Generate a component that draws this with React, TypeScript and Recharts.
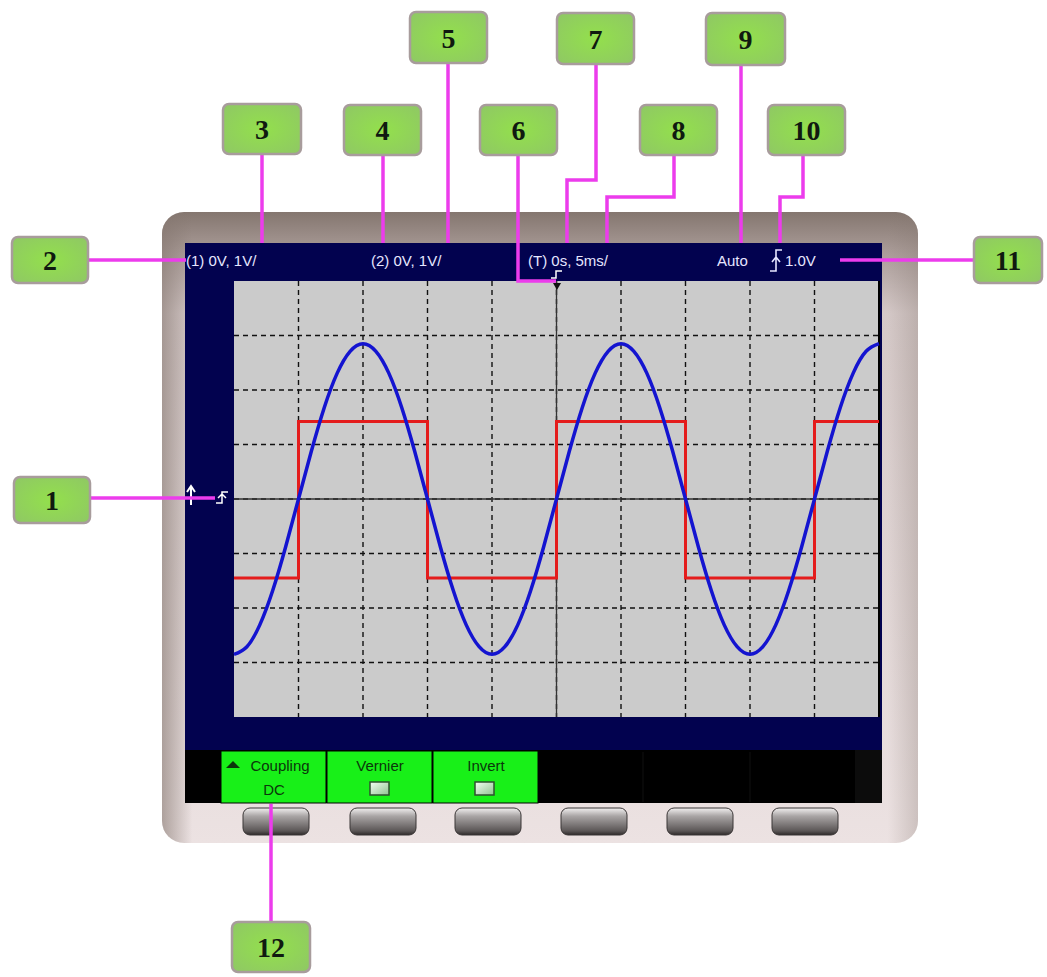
import { LineChart, Line, XAxis, YAxis, CartesianGrid, ReferenceLine } from 'recharts';

// time axis in ms (5 ms/div, 10 divisions)
const timeMs = [
  -25, -24, -23, -22, -21, -20, -19, -18, -17, -16, -15, -14, -13, -12, -11, -10, -9, -8, -7, -6, -5, -4, -3,
  -2, -1, 0, 1, 2, 3, 4, 5, 6, 7, 8, 9, 10, 11, 12, 13, 14, 15, 16, 17, 18, 19, 20, 21, 22, 23, 24, 25,
];
// blue trace (volts)
const sineVolts = [
  -2.85, -2.71, -2.31, -1.68, -0.88, 0, 0.88, 1.68, 2.31, 2.71, 2.85, 2.71, 2.31, 1.68, 0.88, 0, -0.88, -1.68,
  -2.31, -2.71, -2.85, -2.71, -2.31, -1.68, -0.88, 0, 0.88, 1.68, 2.31, 2.71, 2.85, 2.71, 2.31, 1.68, 0.88, 0,
  -0.88, -1.68, -2.31, -2.71, -2.85, -2.71, -2.31, -1.68, -0.88, 0, 0.88, 1.68, 2.31, 2.71, 2.85,
];
// red trace: edges of the square wave
const squareTimes = [-25, -20, -20, -10, -10, 0, 0, 10, 10, 20, 20, 25];
const squareVolts = [-1.45, -1.45, 1.42, 1.42, -1.45, -1.45, 1.42, 1.42, -1.45, -1.45, 1.42, 1.42];

const timeTicks = [-20, -15, -10, -5, 0, 5, 10, 15, 20];
const voltTicks = [-3, -2, -1, 0, 1, 2, 3];

const headerLabels = ['(1) 0V, 1V/', '(2) 0V, 1V/', '(T) 0s, 5ms/', 'Auto', '1.0V'];
const softkeyTitles = ['Coupling', 'Vernier', 'Invert'];

const sineData = timeMs.map((t, i) => ({ t, v: sineVolts[i] }));
const squareData = squareTimes.map((t, i) => ({ t, v: squareVolts[i] }));

const callouts = [
  { n: '1', x: 14, y: 477, w: 76, h: 46, path: 'M90 498 H215' },
  { n: '2', x: 12, y: 237, w: 76, h: 46, path: 'M88 260 H186' },
  { n: '3', x: 223, y: 104, w: 78, h: 50, path: 'M262 154 V243' },
  { n: '4', x: 344, y: 105, w: 77, h: 50, path: 'M383 155 V243' },
  { n: '5', x: 410, y: 12, w: 77, h: 51, path: 'M448 63 V243' },
  { n: '6', x: 480, y: 105, w: 77, h: 50, path: 'M518 155 V281 H556' },
  { n: '7', x: 557, y: 13, w: 77, h: 51, path: 'M596 64 V180 H567 V243' },
  { n: '8', x: 640, y: 105, w: 77, h: 50, path: 'M674 155 V197 H607 V243' },
  { n: '9', x: 706, y: 13, w: 79, h: 52, path: 'M741 65 V243' },
  { n: '10', x: 768, y: 105, w: 77, h: 50, path: 'M803 155 V197 H780 V243' },
  { n: '11', x: 974, y: 237, w: 68, h: 46, path: 'M840 260 H974' },
  { n: '12', x: 232, y: 922, w: 78, h: 50, path: 'M271 804 V922' },
];

const bezelButtons = [276, 383, 488, 594, 700, 805];

const sans = 'Arial, "Liberation Sans", sans-serif';
const serif = '"Liberation Serif", "DejaVu Serif", serif';

function Background() {
  return (
    <svg width={1047} height={977} style={{ position: 'absolute', left: 0, top: 0 }}>
      <defs>
        <linearGradient id="bezel" x1="0" y1="0" x2="0" y2="1">
          <stop offset="0%" stopColor="#84766f" />
          <stop offset="6%" stopColor="#a89a96" />
          <stop offset="16%" stopColor="#d4c8c7" />
          <stop offset="100%" stopColor="#ece2e2" />
        </linearGradient>
        <linearGradient id="bezelSide" x1="0" y1="0" x2="1" y2="0">
          <stop offset="0%" stopColor="#84766f" stopOpacity={0.6} />
          <stop offset="4%" stopColor="#84766f" stopOpacity={0} />
          <stop offset="96%" stopColor="#84766f" stopOpacity={0} />
          <stop offset="100%" stopColor="#84766f" stopOpacity={0.3} />
        </linearGradient>
        <linearGradient id="btn" x1="0" y1="0" x2="0" y2="1">
          <stop offset="0%" stopColor="#f2f0f0" />
          <stop offset="30%" stopColor="#a9a5a5" />
          <stop offset="85%" stopColor="#5b5656" />
          <stop offset="100%" stopColor="#2e2a2a" />
        </linearGradient>
        <linearGradient id="chk" x1="0" y1="0" x2="1" y2="1">
          <stop offset="0%" stopColor="#f4fff4" />
          <stop offset="100%" stopColor="#8fc28f" />
        </linearGradient>
      </defs>
      <rect x={162} y={212} width={756} height={631} rx={22} fill="url(#bezel)" />
      <rect x={162} y={212} width={756} height={631} rx={22} fill="url(#bezelSide)" />
      {/* screen */}
      <rect x={185} y={243} width={697} height={508} fill="#02024f" />
      <rect x={234} y={281} width={645} height={436} fill="#cbcbcb" />
      <rect x={185} y={750} width={697} height={53} fill="#000" />
      <rect x={855} y={750} width={27} height={53} fill="#0c0c0c" />
      <line x1={643} y1={752} x2={643} y2={802} stroke="#111" />
      <line x1={750} y1={752} x2={750} y2={802} stroke="#111" />
      {/* softkeys */}
      {[221, 327, 433].map((x, i) => (
        <g key={x}>
          <rect x={x} y={751} width={105} height={52} fill="#18f018" stroke="#000" strokeWidth={1} />
          <text x={x + 53 + (i === 0 ? 6 : 0)} y={771} textAnchor="middle" fontFamily={sans} fontSize={15} fill="#0b360b">
            {softkeyTitles[i]}
          </text>
        </g>
      ))}
      <path d="M226 768 L233 761 L240 768 Z" fill="#0b360b" />
      <text x={274} y={795} textAnchor="middle" fontFamily={sans} fontSize={15} fill="#0b360b">
        DC
      </text>
      {[370, 475].map((x) => (
        <rect key={x} x={x} y={782} width={19} height={13} fill="url(#chk)" stroke="#2f4f2f" strokeWidth={1.5} />
      ))}
      {/* header readouts */}
      <text x={186} y={266} fontFamily={sans} fontSize={15} fill="#e6e6ff">
        {headerLabels[0]}
      </text>
      <text x={371} y={266} fontFamily={sans} fontSize={15} fill="#e6e6ff">
        {headerLabels[1]}
      </text>
      <text x={528} y={266} fontFamily={sans} fontSize={15} fill="#e6e6ff">
        {headerLabels[2]}
      </text>
      <text x={717} y={266} fontFamily={sans} fontSize={15} fill="#e6e6ff">
        {headerLabels[3]}
      </text>
      <path d="M770 271 H776 V250 H782 M772 262 L776 257 L780 262" stroke="#e6e6ff" strokeWidth={1.6} fill="none" />
      <text x={785} y={266} fontFamily={sans} fontSize={15} fill="#e6e6ff">
        {headerLabels[4]}
      </text>
      {/* bezel buttons */}
      {bezelButtons.map((cx) => (
        <rect key={cx} x={cx - 33} y={808} width={66} height={27} rx={7} fill="url(#btn)" stroke="#3a3636" strokeWidth={1} />
      ))}
    </svg>
  );
}

function Overlay() {
  return (
    <svg width={1047} height={977} style={{ position: 'absolute', left: 0, top: 0, pointerEvents: 'none' }}>
      <defs>
        <radialGradient id="boxFill" cx="0.5" cy="0.5" r="0.7">
          <stop offset="0%" stopColor="#93e04c" />
          <stop offset="100%" stopColor="#8fc765" />
        </radialGradient>
      </defs>
      {/* channel ground markers and trigger position marker */}
      <path d="M191 505 V488 M187 492 L191 486 L195 492" stroke="#fff" strokeWidth={2} fill="none" />
      <path d="M216 503 H222 V492 H228 M218 498 L222 494 L226 498" stroke="#fff" strokeWidth={1.5} fill="none" />
      <path d="M551 278 H556 V271 H562" stroke="#fff" strokeWidth={1.5} fill="none" />
      <path d="M553 283 L561 283 L557 290 Z" fill="#111" />
      {callouts.map((c) => (
        <path key={'l' + c.n} d={c.path} stroke="#ec3cec" strokeWidth={3.5} fill="none" />
      ))}
      {callouts.map((c) => (
        <g key={'b' + c.n}>
          <rect x={c.x} y={c.y} width={c.w} height={c.h} rx={6} fill="url(#boxFill)" stroke="#a89c9c" strokeWidth={2.5} />
          <text
            x={c.x + c.w / 2}
            y={c.y + c.h / 2 + 10}
            textAnchor="middle"
            fontFamily={serif}
            fontWeight="bold"
            fontSize={28}
            fill="#101a10"
          >
            {c.n}
          </text>
        </g>
      ))}
    </svg>
  );
}

export default function App() {
  return (
    <div style={{ position: 'absolute', left: 0, top: 0, width: 1047, height: 977, background: '#fff', overflow: 'hidden' }}>
      <Background />
      <div style={{ position: 'absolute', left: 0, top: 0 }}>
        <LineChart width={1047} height={977} margin={{ top: 281, right: 168, bottom: 260, left: 234 }}>
          <CartesianGrid
            stroke="#111"
            strokeWidth={1.4}
            strokeDasharray="5 4"
            fill="none"
            verticalValues={timeTicks}
            horizontalValues={voltTicks}
          />
          <XAxis type="number" dataKey="t" domain={[-25, 25]} ticks={timeTicks} hide allowDuplicatedCategory={false} />
          <YAxis type="number" domain={[-4, 4]} ticks={voltTicks} hide />
          <ReferenceLine x={0} stroke="#333" strokeWidth={1.3} />
          <ReferenceLine y={0} stroke="#333" strokeWidth={1.3} />
          <ReferenceLine x={25} stroke="#000" strokeWidth={2} />
          <Line
            data={squareData}
            dataKey="v"
            type="linear"
            stroke="#e41c1c"
            strokeWidth={3}
            dot={false}
            activeDot={false}
            isAnimationActive={false}
          />
          <Line
            data={sineData}
            dataKey="v"
            type="natural"
            stroke="#1414d0"
            strokeWidth={3.5}
            dot={false}
            activeDot={false}
            isAnimationActive={false}
          />
        </LineChart>
      </div>
      <Overlay />
    </div>
  );
}
